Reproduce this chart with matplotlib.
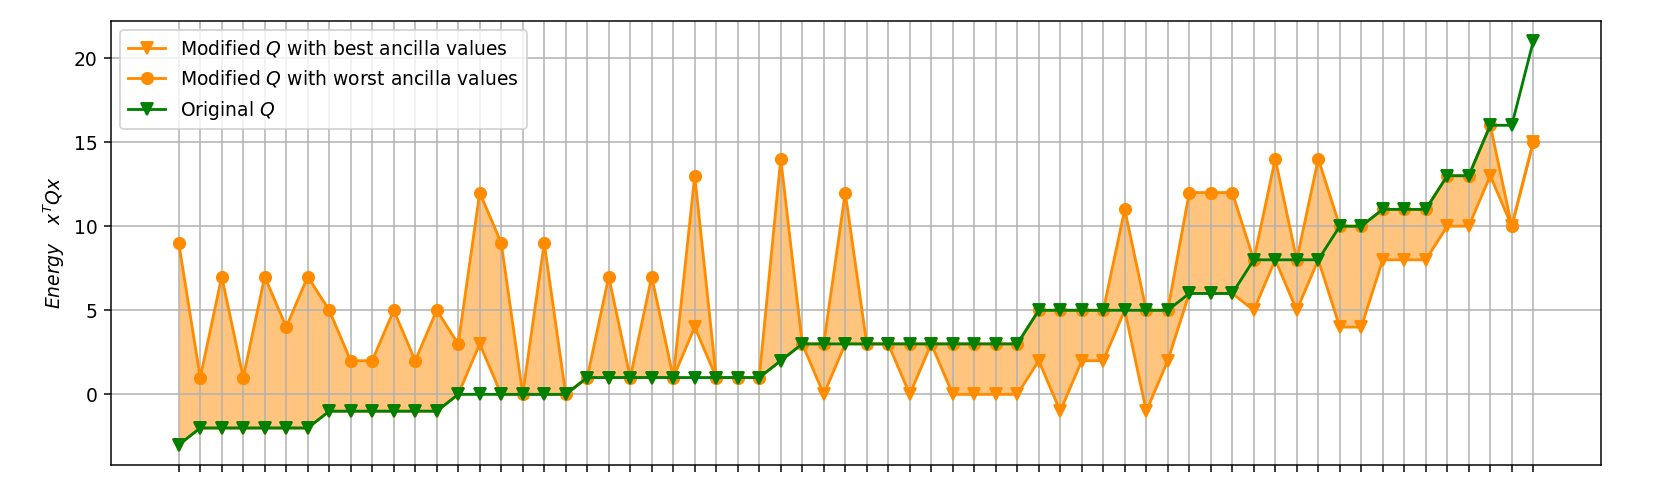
import numpy as np
import matplotlib
matplotlib.use("Agg")
import matplotlib.pyplot as plt

# Energies for each sample (sorted by original energy)
original = [-3, -2, -2, -2, -2, -2, -2, -1, -1, -1, -1, -1, -1, 0, 0, 0,
            0, 0, 0, 1, 1, 1, 1, 1, 1, 1, 1, 1, 2, 3, 3, 3,
            3, 3, 3, 3, 3, 3, 3, 3, 5, 5, 5, 5, 5, 5, 5, 6,
            6, 6, 8, 8, 8, 8, 10, 10, 11, 11, 11, 13, 13, 16, 16, 21]
best = [-3, -2, -2, -2, -2, -2, -2, -1, -1, -1, -1, -1, -1, 0, 3, 0,
        0, 0, 0, 1, 1, 1, 1, 1, 4, 1, 1, 1, 2, 3, 0, 3,
        3, 3, 0, 3, 0, 0, 0, 0, 2, -1, 2, 2, 5, -1, 2, 6,
        6, 6, 5, 8, 5, 8, 4, 4, 8, 8, 8, 10, 10, 13, 10, 15]
worst = [9, 1, 7, 1, 7, 4, 7, 5, 2, 2, 5, 2, 5, 3, 12, 9,
         0, 9, 0, 1, 7, 1, 7, 1, 13, 1, 1, 1, 14, 3, 3, 12,
         3, 3, 3, 3, 3, 3, 3, 3, 5, 5, 5, 5, 11, 5, 5, 12,
         12, 12, 8, 14, 8, 14, 10, 10, 11, 11, 11, 13, 13, 16, 10, 15]

x = np.arange(len(original))

dpi = 135
fig, ax = plt.subplots(figsize=(1661 / dpi, 485 / dpi), dpi=dpi)
fig.subplots_adjust(left=111 / 1661, right=1601 / 1661, top=1 - 21 / 485, bottom=1 - 465 / 485)

ax.plot(x, best, marker='v', color='darkorange', label='Modified $Q$ with best ancilla values')
ax.plot(x, worst, marker='o', color='darkorange', label='Modified $Q$ with worst ancilla values')
ax.fill_between(x, best, worst, color='darkorange', alpha=0.5, linewidth=0)
ax.plot(x, original, marker='v', color='green', label='Original $Q$')

ax.set_xticks(x)
ax.set_xticklabels([])
ax.set_ylabel(r'$Energy \quad x^TQx$')
ax.grid(True)
ax.legend(loc='upper left')

fig.savefig("out.png", dpi=dpi)
